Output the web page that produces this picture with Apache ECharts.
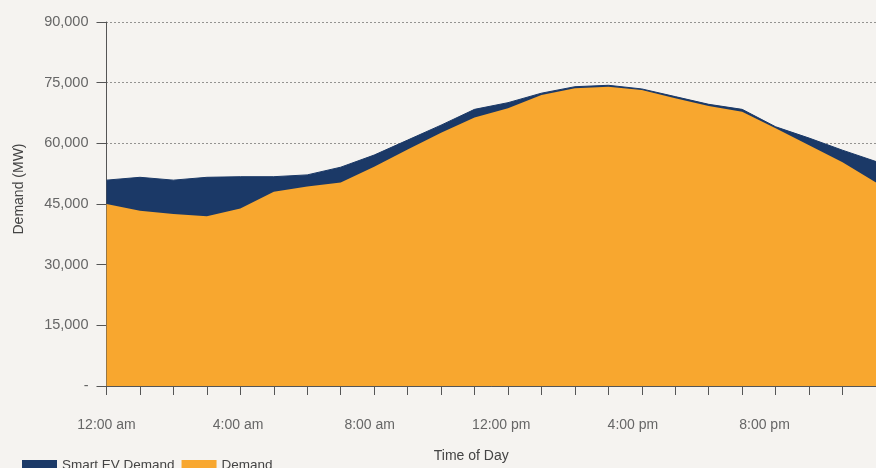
<!DOCTYPE html>
<html>
<head>
<meta charset="utf-8">
<script src="https://cdn.jsdelivr.net/npm/echarts@6/dist/echarts.min.js"></script>
<style>
  html, body { margin: 0; padding: 0; background: #f5f3f0; }
  #chart { width: 876px; height: 468px; }
</style>
</head>
<body>
<div id="chart"></div>
<script>
// Hourly time-of-day categories
const hours = [
  '12:00 am', '1:00 am', '2:00 am', '3:00 am', '4:00 am', '5:00 am',
  '6:00 am', '7:00 am', '8:00 am', '9:00 am', '10:00 am', '11:00 am',
  '12:00 pm', '1:00 pm', '2:00 pm', '3:00 pm', '4:00 pm', '5:00 pm',
  '6:00 pm', '7:00 pm', '8:00 pm', '9:00 pm', '10:00 pm', '11:00 pm'
];

// System demand with smart EV charging added (MW)
const smartEvDemand = [
  50900, 51600, 50900, 51600, 51750, 51750, 52200, 54100,
  57100, 60800, 64500, 68400, 70050, 72400, 74000, 74350,
  73450, 71550, 69650, 68400, 64100, 61300, 58300, 55500
];

// Base system demand (MW)
const demand = [
  45000, 43350, 42500, 42000, 43900, 48050, 49300, 50300,
  54200, 58500, 62600, 66400, 68650, 71950, 73600, 74000,
  73200, 71150, 69250, 67800, 63700, 59500, 55300, 50300
];

// Y-axis tick labels (accounting style, zero shown as a dash)
const yTickLabels = ['-', '15,000', '30,000', '45,000', '60,000', '75,000', '90,000'];
const yStep = 15000;

const FONT = '"Liberation Sans", Arial, sans-serif';
const NAVY = '#1b3967';
const ORANGE = '#f8a72f';
const AXIS = '#555555';
const LABEL = '#666666';

const chart = echarts.init(document.getElementById('chart'), null, { renderer: 'canvas' });

chart.setOption({
  backgroundColor: '#f5f3f0',
  animation: false,
  textStyle: { fontFamily: FONT },
  legend: {
    left: 17,
    top: 453,
    itemWidth: 35,
    itemHeight: 10,
    itemGap: 7,
    icon: 'rect',
    textStyle: { fontFamily: FONT, fontSize: 13.5, color: '#444' },
    data: ['Smart EV Demand', 'Demand']
  },
  grid: [
    { left: 106.5, right: -1, top: 22, bottom: 82 },
    // grid carrying the time-of-day labels
    { left: 106.5, right: 12.8, top: 22, bottom: 82 }
  ],
  xAxis: [
    {
      type: 'category',
      gridIndex: 0,
      data: hours,
      boundaryGap: false,
      name: 'Time of Day',
      nameLocation: 'middle',
      nameGap: 63,
      nameTextStyle: { fontFamily: FONT, fontSize: 14, color: '#444', padding: [0, 40, 0, 0] },
      axisLine: { lineStyle: { color: AXIS, width: 1 } },
      axisTick: { show: true, interval: 0, length: 9, lineStyle: { color: AXIS } },
      axisLabel: { show: false },
      splitLine: { show: false }
    },
    {
      type: 'category',
      gridIndex: 1,
      data: hours,
      boundaryGap: false,
      axisLine: { show: false },
      axisTick: { show: false },
      axisLabel: {
        interval: 3,
        margin: 32,
        fontFamily: FONT,
        fontSize: 14,
        color: LABEL
      },
      splitLine: { show: false }
    }
  ],
  yAxis: [
    {
      type: 'value',
      gridIndex: 0,
      min: 0,
      max: 90000,
      interval: yStep,
      name: 'Demand (MW)',
      nameLocation: 'middle',
      nameGap: 80,
      nameTextStyle: { fontFamily: FONT, fontSize: 14, color: '#444', padding: [0, 0, 0, 30] },
      axisLine: { show: true, lineStyle: { color: AXIS, width: 1 } },
      axisTick: { show: true, length: 10, lineStyle: { color: AXIS } },
      axisLabel: {
        margin: 18,
        fontFamily: FONT,
        fontSize: 14.5,
        color: LABEL,
        formatter: v => yTickLabels[Math.round(v / yStep)]
      },
      splitLine: { show: true, lineStyle: { color: '#333', type: [1, 3], width: 1 } }
    },
    { type: 'value', gridIndex: 1, show: false, min: 0, max: 90000 }
  ],
  series: [
    {
      name: 'Smart EV Demand',
      type: 'line',
      xAxisIndex: 0,
      yAxisIndex: 0,
      data: smartEvDemand,
      symbol: 'none',
      smooth: false,
      lineStyle: { color: NAVY, width: 1 },
      itemStyle: { color: NAVY },
      areaStyle: { color: NAVY, opacity: 1 }
    },
    {
      name: 'Demand',
      type: 'line',
      xAxisIndex: 0,
      yAxisIndex: 0,
      data: demand,
      symbol: 'none',
      smooth: false,
      lineStyle: { width: 0 },
      itemStyle: { color: ORANGE },
      areaStyle: { color: ORANGE, opacity: 1 }
    }
  ]
});
</script>
</body>
</html>
